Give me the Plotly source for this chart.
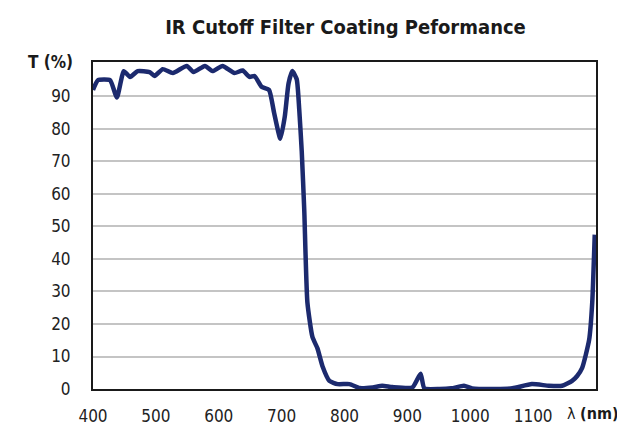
import plotly.graph_objects as go

wavelength = [400, 408, 427, 438, 449, 459, 471, 490, 498, 511, 527, 549, 560, 578, 590, 606,
              625, 638, 649, 657, 668, 680, 688, 698, 705, 711, 717, 724, 728, 732, 736, 741,
              749, 757, 765, 776, 789, 808, 824, 845, 860, 876, 908, 921, 927, 951, 970, 990,
              1003, 1041, 1067, 1098, 1125, 1146, 1162, 1170, 1178, 1189, 1194, 1198]
transmission = [92, 95, 95, 89.7, 97.8, 96, 97.8, 97.5, 96.3, 98.4, 97.2, 99.4, 97.5, 99.4, 97.8, 99.4,
                97.2, 98, 96, 96.3, 93, 92, 85, 77, 83.8, 94, 97.8, 95.3, 86, 73, 55, 26.6,
                16, 12.5, 7, 2.5, 1.5, 1.5, 0.3, 0.5, 1, 0.6, 0.5, 4.7, 0.2, 0, 0.2, 1,
                0.2, 0, 0.2, 1.5, 1, 1, 2.5, 4, 6.5, 15, 26.6, 47.5]

x_ticks = [400, 500, 600, 700, 800, 900, 1000, 1100]
y_ticks = [0, 10, 20, 30, 40, 50, 60, 70, 80, 90]

FONT = "DejaVu Sans Condensed, Liberation Sans Narrow, sans-serif"

L, R, T, B = 85, 37, 54, 44

fig = go.Figure()
fig.add_trace(go.Scatter(
    x=wavelength, y=transmission, mode="lines",
    line=dict(color="#1c2a6e", width=4.5, shape="spline", smoothing=0.5),
    showlegend=False, hoverinfo="skip"))

fig.update_layout(
    width=625, height=430,
    margin=dict(l=L, r=R, t=T, b=B),
    paper_bgcolor="white", plot_bgcolor="white",
    font=dict(family=FONT, size=17, color="#222222"),
    title=dict(text="<b>IR Cutoff Filter Coating Peformance</b>", x=0.54, xanchor="center",
               y=0.956, yanchor="middle", font=dict(family=FONT, size=20, color="#1a1a1a")),
    xaxis=dict(range=[400, 1200], tickvals=x_ticks, showgrid=False, zeroline=False,
               showline=True, linecolor="#1a1a1a", linewidth=2, mirror=True,
               ticks="outside", ticklen=11, tickcolor="rgba(0,0,0,0)"),
    yaxis=dict(range=[0, 100.6], tickvals=y_ticks, showgrid=True, gridcolor="#c4c4c4",
               gridwidth=1.5, zeroline=False, showline=True, linecolor="#1a1a1a",
               linewidth=2, mirror=True, ticks="outside", ticklen=17,
               tickcolor="rgba(0,0,0,0)"),
    annotations=[
        dict(text="<b>T (%)</b>", xref="paper", yref="paper", x=-0.036, y=1.0,
             xanchor="right", yanchor="middle", showarrow=False,
             font=dict(family=FONT, size=17, color="#1a1a1a")),
        dict(text="λ <b>(nm)</b>", xref="paper", yref="paper", x=1.05, y=-0.075,
             xanchor="right", yanchor="middle", showarrow=False,
             font=dict(family=FONT, size=16, color="#1a1a1a")),
    ],
)

fig.write_html("out.html")
